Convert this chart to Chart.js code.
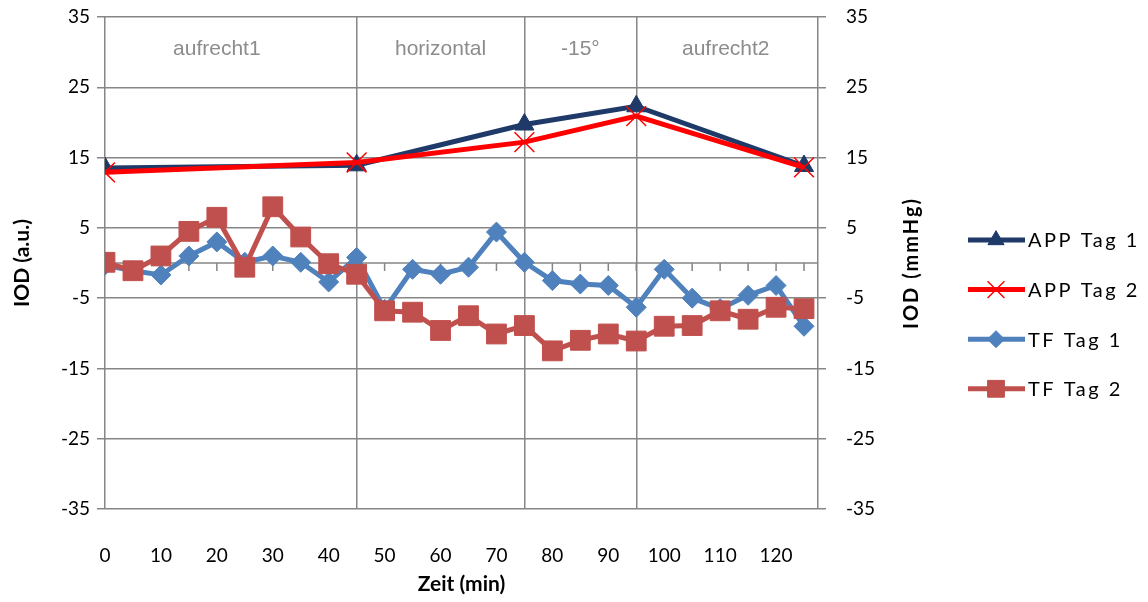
<!DOCTYPE html>
<html>
<head>
  <title>IOD Lagerung</title>
  <script src="https://cdn.jsdelivr.net/npm/chart.js"></script>
  <style>body { margin: 0; background: #fff; }</style>
</head>
<body>
<canvas id="iodChart" width="1148" height="602"></canvas>

<script>
  // APP measurements (one per phase boundary)
  const appTime = [0, 45, 75, 95, 125];
  const app1 = [13.5, 13.9, 19.7, 22.3, 13.8];
  const app2 = [12.9, 14.3, 17.2, 20.9, 13.6];

  // TF measurements every 5 min
  const tfTime = [0, 5, 10, 15, 20, 25, 30, 35, 40, 45, 50, 55, 60, 65, 70, 75, 80, 85, 90, 95, 100, 105, 110, 115, 120, 125];
  const tf1 = [-0.3, -1.1, -1.7, 1.0, 3.0, 0.1, 1.0, 0.1, -2.7, 0.8, -6.6, -0.9, -1.6, -0.6, 4.4, 0.1, -2.5, -3.0, -3.2, -6.3, -0.9, -5.0, -6.5, -4.6, -3.2, -9.0];
  const tf2 = [0.1, -1.1, 1.0, 4.5, 6.5, -0.6, 8.0, 3.7, -0.1, -1.6, -6.8, -7.0, -9.6, -7.5, -10.1, -8.9, -12.5, -11.0, -10.1, -11.1, -9.0, -8.9, -6.8, -8.0, -6.3, -6.5];

  const xTicks = [0, 10, 20, 30, 40, 50, 60, 70, 80, 90, 100, 110, 120];
  const yTicks = [-35, -25, -15, -5, 5, 15, 25, 35];
  const phaseBounds = [0, 45, 75, 95, 127.5];
  const phaseNames = ["aufrecht1", "horizontal", "-15°", "aufrecht2"];
  const phaseLabelX = [20, 60, 85, 111];

  const gridGray = "#868686";

  function pts(xs, ys) {
    return xs.map((x, i) => ({ x: x, y: ys[i] }));
  }

  // zero axis line with small tick marks, plus phase names
  const phasePlugin = {
    id: "phasePlugin",
    beforeDatasetsDraw(chart) {
      const ctx = chart.ctx;
      const x = chart.scales.x, y = chart.scales.y;
      const y0 = y.getPixelForValue(0);
      ctx.save();
      ctx.strokeStyle = gridGray;
      ctx.lineWidth = 1.5;
      ctx.beginPath();
      ctx.moveTo(chart.chartArea.left, y0);
      ctx.lineTo(chart.chartArea.right, y0);
      tfTime.forEach(t => {
        if (t === 0) return;
        const px = x.getPixelForValue(t);
        ctx.moveTo(px, y0);
        ctx.lineTo(px, y0 + 8);
      });
      ctx.stroke();

      ctx.fillStyle = "#8c8c8c";
      ctx.font = "21px 'Liberation Sans'";
      ctx.textAlign = "center";
      ctx.textBaseline = "middle";
      phaseNames.forEach((name, i) => {
        ctx.fillText(name, x.getPixelForValue(phaseLabelX[i]), y.getPixelForValue(30.4));
      });
      ctx.restore();
    },
    afterDraw(chart) {
      const ctx = chart.ctx;
      const y = chart.scales.y;
      ctx.save();
      // right axis title, reading bottom to top
      ctx.translate(912, (y.top + y.bottom) / 2);
      ctx.rotate(-Math.PI / 2);
      ctx.fillStyle = "#000";
      ctx.font = "bold 20px Lato";
      ctx.letterSpacing = "2px";
      ctx.textAlign = "center";
      ctx.textBaseline = "middle";
      ctx.fillText("IOD (mmHg)", 0, 0);
      ctx.restore();

      // legend
      ctx.save();
      chart.data.datasets.forEach((ds, i) => {
        const ly = 240 + i * 49.6;
        ctx.strokeStyle = ds.borderColor;
        ctx.lineWidth = ds.borderWidth;
        ctx.beginPath();
        ctx.moveTo(968, ly);
        ctx.lineTo(1025, ly);
        ctx.stroke();
        ctx.fillStyle = ds.pointBackgroundColor;
        ctx.strokeStyle = ds.pointBorderColor;
        ctx.lineWidth = ds.pointBorderWidth;
        if (Chart.helpers && Chart.helpers.drawPoint) {
          Chart.helpers.drawPoint(ctx, {
            pointStyle: ds.pointStyle,
            radius: ds.pointRadius * 0.85,
            borderWidth: ds.pointBorderWidth,
            rotation: 0
          }, 996, ly);
        }
        ctx.fillStyle = "#000";
        ctx.font = "20px Lato";
        ctx.letterSpacing = "2.5px";
        ctx.textAlign = "left";
        ctx.textBaseline = "middle";
        ctx.fillText(ds.label, 1028, ly + 1);
      });
      ctx.restore();
    }
  };

  function fixYWidth(w) {
    return s => {
      s.width = w;
      s.paddingTop = 0;
      s.paddingBottom = 0;
    };
  }

  const ctx = document.getElementById("iodChart").getContext("2d");
  const iodChart = new Chart(ctx, {
    type: "line",
    data: {
      datasets: [
        {
          label: "APP Tag 1",
          data: pts(appTime, app1),
          borderColor: "#1F3A68",
          borderWidth: 5,
          pointStyle: "triangle",
          pointRadius: 11,
          pointBackgroundColor: "#1F3A68",
          pointBorderColor: "#1F3A68",
          pointBorderWidth: 1,
          tension: 0,
          order: 3
        },
        {
          label: "APP Tag 2",
          data: pts(appTime, app2),
          borderColor: "#FF0000",
          borderWidth: 5,
          pointStyle: "crossRot",
          pointRadius: 14,
          pointBackgroundColor: "#FF0000",
          pointBorderColor: "#FF0000",
          pointBorderWidth: 1.5,
          tension: 0,
          order: 2
        },
        {
          label: "TF Tag 1",
          data: pts(tfTime, tf1),
          borderColor: "#4F81BD",
          borderWidth: 5,
          pointStyle: "rectRot",
          pointRadius: 10,
          pointBackgroundColor: "#4F81BD",
          pointBorderColor: "#4F81BD",
          pointBorderWidth: 1,
          tension: 0,
          order: 1
        },
        {
          label: "TF Tag 2",
          data: pts(tfTime, tf2),
          borderColor: "#C0504D",
          borderWidth: 5,
          pointStyle: "rect",
          pointRadius: 14,
          pointBackgroundColor: "#C0504D",
          pointBorderColor: "#C0504D",
          pointBorderWidth: 1,
          tension: 0,
          order: 0
        }
      ]
    },
    options: {
      responsive: false,
      animation: false,
      layout: { padding: { top: 17, right: 220, bottom: 0, left: 0 } },
      plugins: {
        legend: { display: false },
        tooltip: { enabled: false }
      },
      scales: {
        x: {
          type: "linear",
          position: "bottom",
          min: 0,
          max: 127.5,
          grid: { display: false },
          border: { display: false },
          afterBuildTicks: s => { s.ticks = xTicks.map(v => ({ value: v })); },
          afterFit: s => { s.height = 93; },
          ticks: { autoSkip: false, maxRotation: 0, padding: 27, color: "#000", font: { family: "Lato", size: 19 } },
          title: {
            display: true,
            text: "Zeit (min)",
            color: "#000",
            font: { family: "Lato", size: 21, weight: "bold" },
            padding: { top: 0, bottom: 5 }
          }
        },
        x2: {
          type: "linear",
          position: "top",
          min: 0,
          max: 127.5,
          afterBuildTicks: s => { s.ticks = phaseBounds.map(v => ({ value: v })); },
          afterFit: s => { s.height = 0; },
          ticks: { display: false },
          border: { display: false },
          grid: { color: gridGray, lineWidth: 1.5, drawTicks: false }
        },
        y: {
          position: "left",
          min: -35,
          max: 35,
          afterBuildTicks: s => { s.ticks = yTicks.map(v => ({ value: v })); },
          afterFit: fixYWidth(105),
          border: { display: false },
          grid: { color: gridGray, lineWidth: 1.5, tickLength: 8 },
          ticks: { padding: 7, color: "#000", font: { family: "Lato", size: 19 } },
          title: {
            display: true,
            text: "IOD (a.u.)",
            color: "#000",
            font: { family: "Lato", size: 21, weight: "bold" },
            padding: { top: 10, bottom: 0 }
          }
        },
        y2: {
          position: "right",
          min: -35,
          max: 35,
          afterBuildTicks: s => { s.ticks = yTicks.map(v => ({ value: v })); },
          afterFit: fixYWidth(110),
          border: { display: false },
          grid: { drawOnChartArea: false, color: gridGray, lineWidth: 1.5, tickLength: 8 },
          ticks: { padding: 20, color: "#000", font: { family: "Lato", size: 19 } }
        }
      }
    },
    plugins: [phasePlugin]
  });
</script>
</body>
</html>
